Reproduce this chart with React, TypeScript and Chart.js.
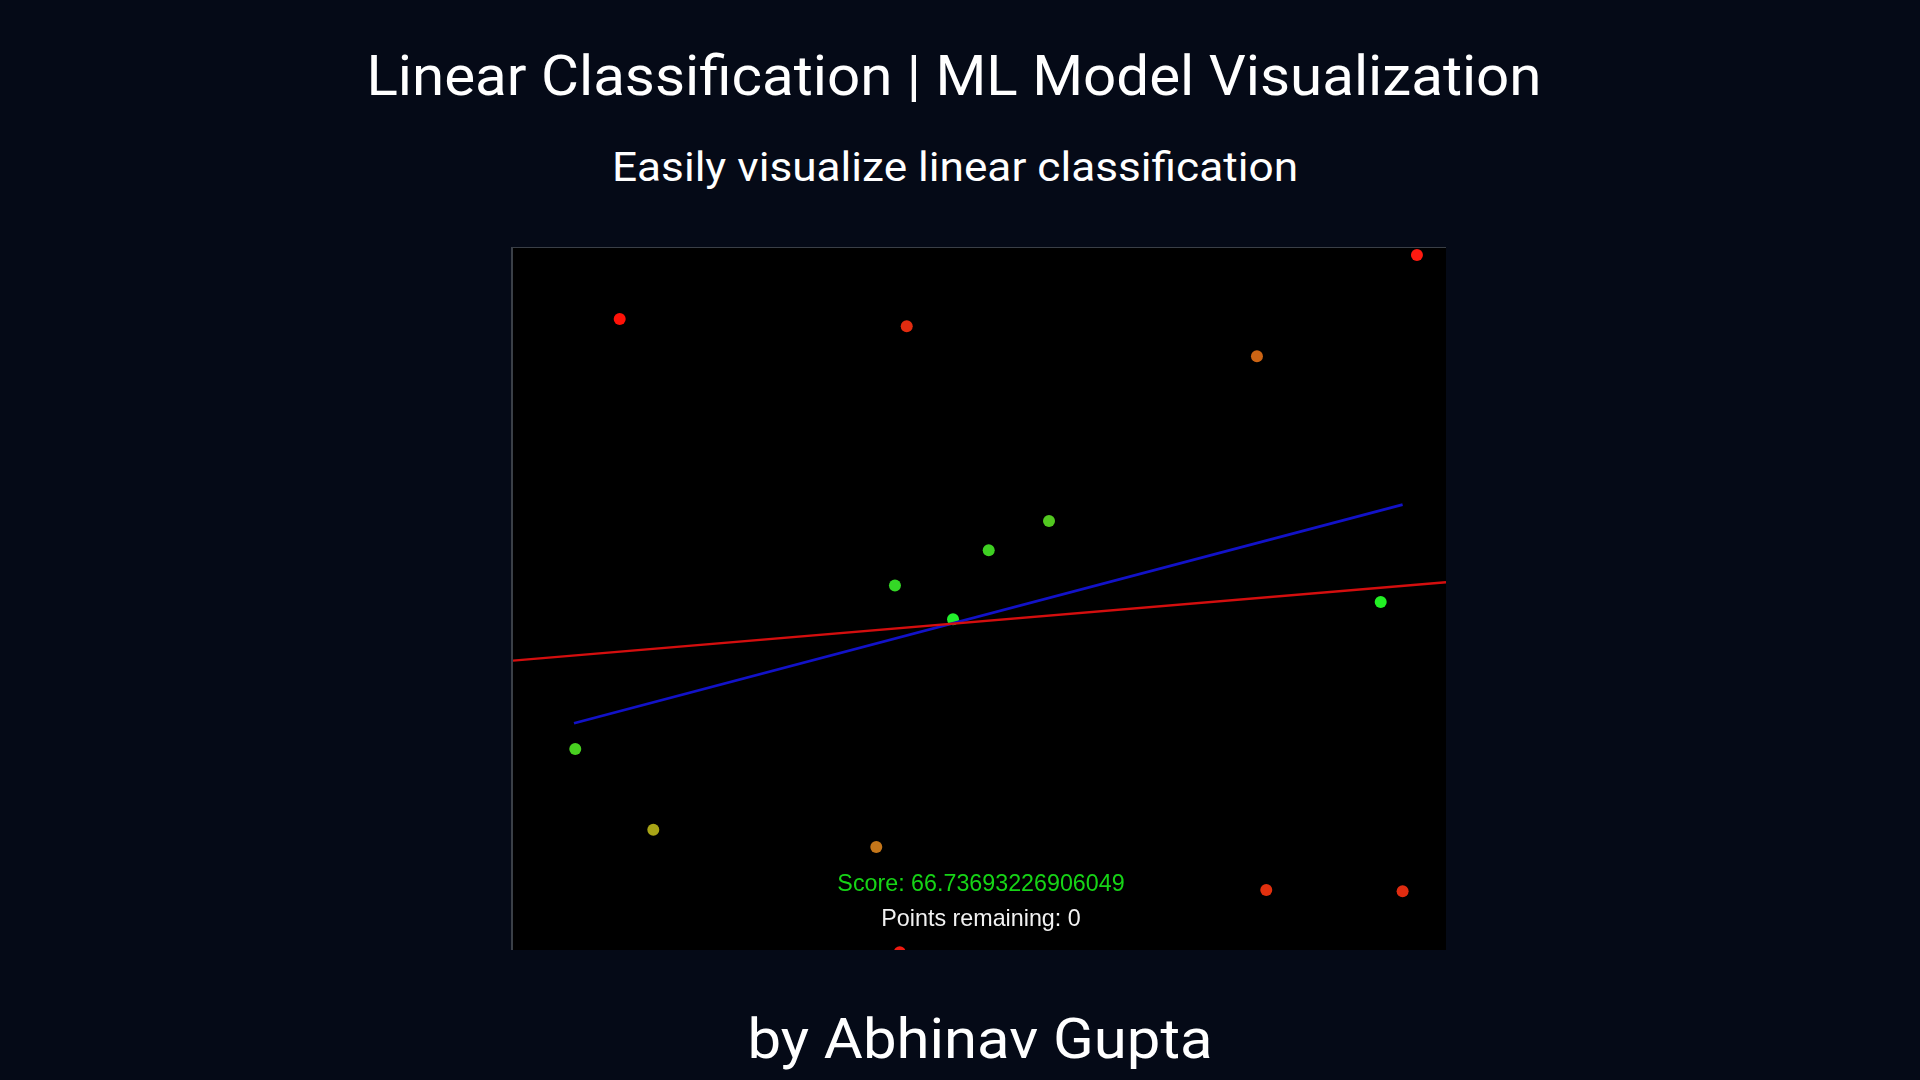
import React, { useEffect, useLayoutEffect, useRef, useState } from "react";
import { Chart, registerables } from "chart.js";

Chart.register(...registerables);

// ---- Data (canvas units: x 0..800, y 0..600, y up) ----
const pointX = [91.5, 337.6, 775.1, 637.9, 459.6, 407.9, 327.5, 377.3, 744.0, 53.4, 120.3, 311.5, 331.6, 645.9, 762.8];
const pointY = [539.3, 533.1, 594.0, 507.4, 366.7, 341.6, 311.5, 282.6, 297.4, 171.8, 102.8, 88.0, -2.0, 51.3, 50.2];
const pointColors = [
  "#ff1208", "#e22c10", "#ff1a10", "#cc6414", "#52c820", "#3ed022", "#34d826", "#22f02c",
  "#22f024", "#48d020", "#a8a416", "#c4761a", "#f01a10", "#e2300e", "#e02c10",
];
// red separating line (true boundary)
const boundaryX = [0, 800];
const boundaryY = [247.3, 314.3];
// blue learned model line
const modelX = [52.3, 762.8];
const modelY = [193.8, 380.6];

const scoreText = "Score: 66.73693226906049";
const remainingText = "Points remaining: 0";
const titleText = "Linear Classification | ML Model Visualization";
const subtitleText = "Easily visualize linear classification";
const authorText = "by Abhinav Gupta";

type FitProps = {
  text: string;
  cx: number;
  baseline: number;
  size: number;
  family: string;
  color: string;
  width: number;
  asc: number;
};

function FitText({ text, cx, baseline, size, family, color, width, asc }: FitProps) {
  const ref = useRef<HTMLSpanElement>(null);
  const [s, setS] = useState(1);
  useLayoutEffect(() => {
    if (ref.current) {
      const w = ref.current.offsetWidth;
      if (w > 0) setS(width / w);
    }
  }, [text, size, family, width]);
  return (
    <span
      ref={ref}
      style={{
        position: "absolute",
        left: cx,
        top: baseline - asc * size,
        fontSize: size,
        lineHeight: size + "px",
        fontFamily: family,
        color,
        whiteSpace: "nowrap",
        transform: `translateX(-50%) scaleX(${s})`,
        transformOrigin: "50% 50%",
      }}
    >
      {text}
    </span>
  );
}

export default function App() {
  const canvasRef = useRef<HTMLCanvasElement>(null);

  useEffect(() => {
    if (!canvasRef.current) return;
    const points = pointX.map((x, i) => ({ x, y: pointY[i] }));
    const chart = new Chart(canvasRef.current, {
      type: "scatter",
      data: {
        datasets: [
          {
            type: "line",
            label: "boundary",
            data: boundaryX.map((x, i) => ({ x, y: boundaryY[i] })),
            borderColor: "#d40e0e",
            borderWidth: 2.4,
            pointRadius: 0,
            showLine: true,
            fill: false,
            clip: 0,
            order: 1,
          } as any,
          {
            type: "line",
            label: "model",
            data: modelX.map((x, i) => ({ x, y: modelY[i] })),
            borderColor: "#1212c8",
            borderWidth: 2.8,
            pointRadius: 0,
            showLine: true,
            fill: false,
            clip: 0,
            order: 2,
          } as any,
          {
            label: "points",
            data: points,
            pointBackgroundColor: pointColors,
            pointBorderWidth: 0,
            pointRadius: 6,
            clip: 0,
            order: 3,
          } as any,
        ],
      },
      options: {
        animation: false,
        responsive: false,
        maintainAspectRatio: false,
        layout: { padding: 0, autoPadding: false },
        plugins: { legend: { display: false }, tooltip: { enabled: false }, title: { display: false } },
        scales: {
          x: { type: "linear", min: 0, max: 800, display: false },
          y: { type: "linear", min: 0, max: 600, display: false },
        },
        events: [],
      } as any,
    });
    return () => chart.destroy();
  }, []);

  const roboto = "Roboto, 'Noto Sans', sans-serif";
  const arial = "'Liberation Sans', Arial, sans-serif";

  return (
    <div
      style={{
        position: "fixed",
        left: 0,
        top: 0,
        width: 1920,
        height: 1080,
        background: "#050a17",
        overflow: "hidden",
      }}
    >
      <FitText text={titleText} cx={954} baseline={95} size={56} family={roboto} color="#ffffff" width={1175} asc={0.842} />
      <FitText text={subtitleText} cx={954.5} baseline={181.7} size={40} family={roboto} color="#ffffff" width={686} asc={0.842} />

      <div
        style={{
          position: "absolute",
          left: 511,
          top: 247,
          width: 935,
          height: 703,
          borderLeft: "2px solid #3a3f47",
          borderTop: "1px solid #3a3f47",
          boxSizing: "border-box",
        }}
      />
      <div style={{ position: "absolute", left: 513, top: 248, width: 933, height: 702, background: "#000000" }}>
        <canvas ref={canvasRef} width={933} height={702} style={{ display: "block", width: 933, height: 702 }} />
      </div>

      <FitText text={scoreText} cx={981} baseline={891.5} size={24} family={arial} color="#16d416" width={287} asc={0.8465} />
      <FitText text={remainingText} cx={981} baseline={926.5} size={24} family={arial} color="#f2f2f2" width={199} asc={0.8465} />

      <FitText text={authorText} cx={979.5} baseline={1058} size={56} family={roboto} color="#ffffff" width={465} asc={0.842} />
    </div>
  );
}
